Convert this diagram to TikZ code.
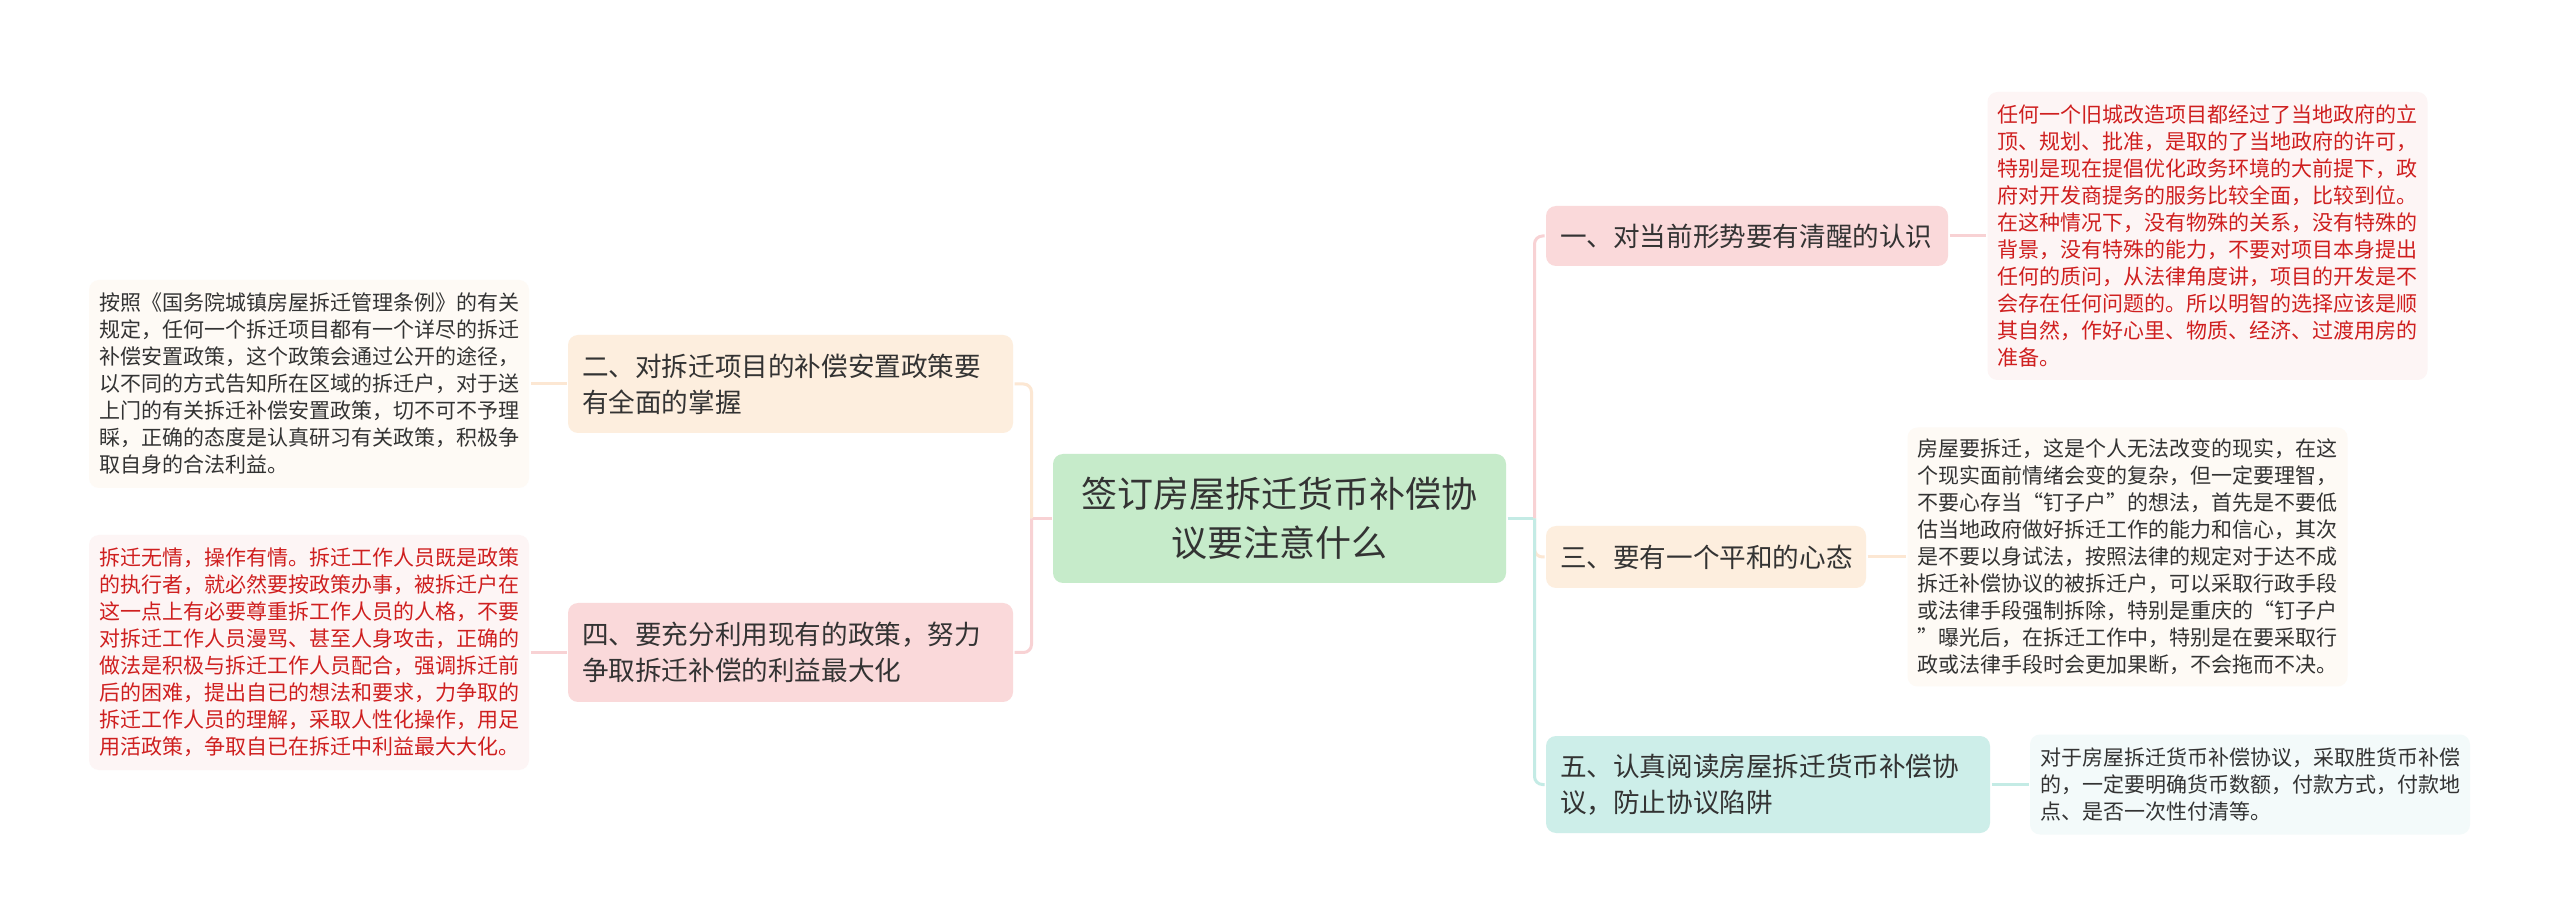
\documentclass[tikz,border=0pt]{standalone}
\usepackage{fontspec}
\setmainfont{Noto Sans CJK SC}
\newcommand{\fwq}[1]{{\addfontfeatures{RawFeature=+fwid}#1}}
\definecolor{hubfill}{HTML}{C6EBCA}
\definecolor{pinkfill}{HTML}{FAD9DA}
\definecolor{creamfill}{HTML}{FDEEDE}
\definecolor{tealfill}{HTML}{CDEEE9}
\definecolor{pinkline}{HTML}{F8D2D4}
\definecolor{creamline}{HTML}{FCE7D3}
\definecolor{tealline}{HTML}{C4EBE5}
\definecolor{pinkleaf}{HTML}{FDF5F5}
\definecolor{creamleaf}{HTML}{FEFAF5}
\definecolor{tealleaf}{HTML}{F3FAFA}
\definecolor{redtext}{HTML}{CF1F1F}
\definecolor{greytext}{HTML}{333333}

\begin{document}
\begin{tikzpicture}[x=0.5pt, y=-0.5pt, every node/.style={rounded corners=5pt, inner sep=0pt, text=greytext}, every path/.style={line width=1.5pt},
	hub/.style={fill=hubfill, align=center, text width=212pt, minimum width=226.5pt, font=\fontsize{18pt}{24.5pt}\selectfont},
	topic/.style={align=left, inner xsep=7pt, font=\fontsize{13.3pt}{18pt}\selectfont},
	leaf/.style={align=left, inner xsep=5pt, text width=210pt, font=\fontsize{10.5pt}{13.5pt}\selectfont}]
			\fill[white] (0,0) rectangle (2560,924);
			\useasboundingbox (0,0) rectangle (2560,924);
			% centre and topics
			\node[hub, minimum height=64.5pt] (c) at (1279.5,518.5) {签订房屋拆迁货币补偿协\\议要注意什么};
			\node[topic, fill=pinkfill, text width=187pt, minimum height=30pt] (b1) at (1747,236) {一、对当前形势要有清醒的认识};
			\node[topic, fill=creamfill, text width=146pt, minimum height=31pt] (b3) at (1706,557) {三、要有一个平和的心态};
			\node[topic, fill=tealfill, text width=208pt, minimum height=48.5pt] (b5) at (1768,784.5) {五、认真阅读房屋拆迁货币补偿协\\议，防止协议陷阱};
			\node[topic, fill=creamfill, text width=208.5pt, minimum height=49pt] (b2) at (790.5,384) {二、对拆迁项目的补偿安置政策要\\有全面的掌握};
			\node[topic, fill=pinkfill, text width=208.5pt, minimum height=49.5pt] (b4) at (790.5,652.5) {四、要充分利用现有的政策，努力\\争取拆迁补偿的利益最大化};
			% leaves
			\node[leaf, fill=pinkleaf, text=redtext, minimum height=144pt] (l1) at (2207.5,236) {任何一个旧城改造项目都经过了当地政府的立\\顶、规划、批准，是取的了当地政府的许可，\\特别是现在提倡优化政务环境的大前提下，政\\府对开发商提务的服务比较全面，比较到位。\\在这种情况下，没有物殊的关系，没有特殊的\\背景，没有特殊的能力，不要对项目本身提出\\任何的质问，从法律角度讲，项目的开发是不\\会存在任何问题的。所以明智的选择应该是顺\\其自然，作好心里、物质、经济、过渡用房的\\准备。};
			\node[leaf, fill=creamleaf, minimum height=129.5pt] (l3) at (2127.5,557) {房屋要拆迁，这是个人无法改变的现实，在这\\个现实面前情绪会变的复杂，但一定要理智，\\不要心存当\fwq{“}钉子户\fwq{”}的想法，首先是不要低\\估当地政府做好拆迁工作的能力和信心，其次\\是不要以身试法，按照法律的规定对于达不成\\拆迁补偿协议的被拆迁户，可以采取行政手段\\或法律手段强制拆除，特别是重庆的\fwq{“}钉子户\\\fwq{”}曝光后，在拆迁工作中，特别是在要采取行\\政或法律手段时会更加果断，不会拖而不决。};
			\node[leaf, fill=tealleaf, minimum height=50pt] (l5) at (2250,784.5) {对于房屋拆迁货币补偿协议，采取胜货币补偿\\的，一定要明确货币数额，付款方式，付款地\\点、是否一次性付清等。};
			\node[leaf, fill=creamleaf, minimum height=104pt] (l2) at (309,384) {按照《国务院城镇房屋拆迁管理条例》的有关\\规定，任何一个拆迁项目都有一个详尽的拆迁\\补偿安置政策，这个政策会通过公开的途径，\\以不同的方式告知所在区域的拆迁户，对于送\\上门的有关拆迁补偿安置政策，切不可不予理\\睬，正确的态度是认真研习有关政策，积极争\\取自身的合法利益。};
			\node[leaf, fill=pinkleaf, text=redtext, minimum height=117.5pt] (l4) at (309,652.5) {拆迁无情，操作有情。拆迁工作人员既是政策\\的执行者，就必然要按政策办事，被拆迁户在\\这一点上有必要尊重拆工作人员的人格，不要\\对拆迁工作人员漫骂、甚至人身攻击，正确的\\做法是积极与拆迁工作人员配合，强调拆迁前\\后的困难，提出自已的想法和要求，力争取的\\拆迁工作人员的理解，采取人性化操作，用足\\用活政策，争取自已在拆迁中利益最大大化。};
			% connectors
			\draw[tealline] (c.east) -- ++(27,0) coordinate (rj);
			\draw[pinkline] (c.west) -- ++(-20,0) coordinate (lj);
			\draw[pinkline, rounded corners=4pt] (rj) |- (b1.west);
			\draw[creamline, rounded corners=4pt] (rj) |- (b3.west);
			\draw[tealline, rounded corners=4pt] (rj) |- (b5.west);
			\draw[creamline, rounded corners=4pt] (lj) |- (b2.east);
			\draw[pinkline, rounded corners=4pt] (lj) |- (b4.east);
			\draw[pinkline] (b1.east) -- (l1.west);
			\draw[creamline] (b3.east) -- (l3.west);
			\draw[tealline] (b5.east) -- (l5.west);
			\draw[creamline] (b2.west) -- (l2.east);
			\draw[pinkline] (b4.west) -- (l4.east);
		\end{tikzpicture}
\end{document}
